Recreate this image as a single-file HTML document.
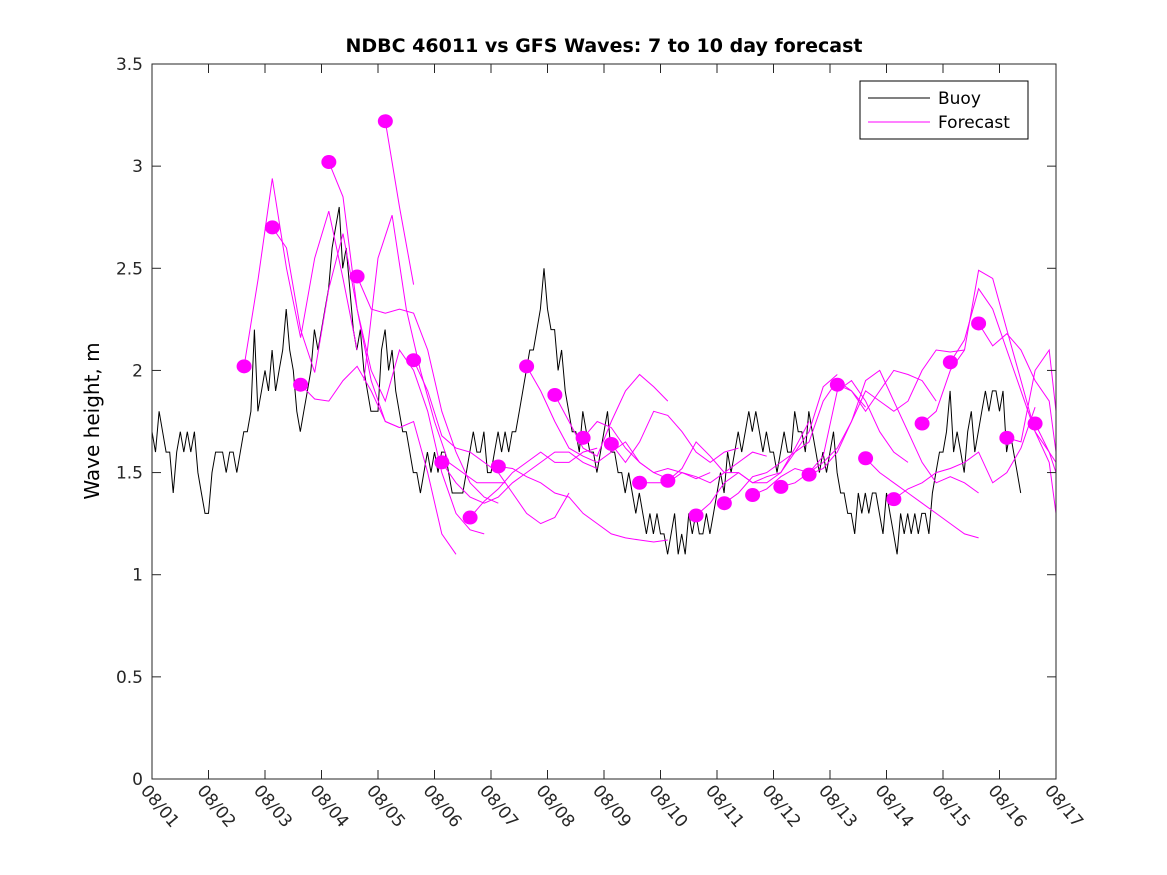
<!DOCTYPE html>
<html><head><meta charset="utf-8"><style>
html,body{margin:0;padding:0;background:#fff;}
svg{display:block;font-family:"DejaVu Sans","Liberation Sans",sans-serif;}
</style></head><body>
<svg id="chart" width="1167" height="875" viewBox="0 0 1167 875" xmlns="http://www.w3.org/2000/svg">
<defs><clipPath id="clip"><rect x="152" y="64" width="904" height="715"/></clipPath></defs>
<rect width="1167" height="875" fill="#fff"/>
<text x="604" y="52" text-anchor="middle" font-size="19" font-weight="bold">NDBC 46011 vs GFS Waves: 7 to 10 day forecast</text>
<text transform="translate(99,421) rotate(-90)" text-anchor="middle" font-size="20">Wave height, m</text>
<g id="plot" clip-path="url(#clip)"></g>
<g id="axes"></g>
<g>
<rect x="860" y="81" width="168" height="58" fill="#fff" stroke="#000" stroke-width="1"/>
<line x1="868" y1="98" x2="930" y2="98" stroke="#000" stroke-width="1"/>
<text x="938" y="104" font-size="17">Buoy</text>
<line x1="868" y1="122" x2="930" y2="122" stroke="#ff00ff" stroke-width="1"/>
<text x="938" y="128" font-size="17">Forecast</text>
</g>
</svg>
<script>
const yTicks=[0,0.5,1,1.5,2,2.5,3,3.5];
const yTickLabels=["0","0.5","1","1.5","2","2.5","3","3.5"];
const xTickLabels=["08/01","08/02","08/03","08/04","08/05","08/06","08/07","08/08","08/09","08/10","08/11","08/12","08/13","08/14","08/15","08/16","08/17"];
const buoyStep=0.0625;
const buoyValues=[1.7,1.6,1.8,1.7,1.6,1.6,1.4,1.6,1.7,1.6,1.7,1.6,1.7,1.5,1.4,1.3,
1.3,1.5,1.6,1.6,1.6,1.5,1.6,1.6,1.5,1.6,1.7,1.7,1.8,2.2,1.8,1.9,
2.0,1.9,2.1,1.9,2.0,2.1,2.3,2.1,2.0,1.8,1.7,1.8,1.9,2.0,2.2,2.1,
2.2,2.3,2.4,2.6,2.7,2.8,2.5,2.6,2.4,2.2,2.1,2.2,2.0,1.9,1.8,1.8,
1.8,2.1,2.2,2.0,2.1,1.9,1.8,1.7,1.7,1.6,1.5,1.5,1.4,1.5,1.6,1.5,
1.6,1.5,1.6,1.6,1.5,1.4,1.4,1.4,1.4,1.5,1.6,1.7,1.6,1.6,1.7,1.5,
1.5,1.6,1.7,1.6,1.7,1.6,1.7,1.7,1.8,1.9,2.0,2.1,2.1,2.2,2.3,2.5,
2.3,2.2,2.2,2.0,2.1,1.9,1.8,1.7,1.7,1.6,1.8,1.7,1.6,1.6,1.5,1.6,
1.7,1.8,1.6,1.6,1.5,1.5,1.4,1.5,1.4,1.3,1.4,1.3,1.2,1.3,1.2,1.3,
1.2,1.2,1.1,1.2,1.3,1.1,1.2,1.1,1.3,1.2,1.3,1.2,1.2,1.3,1.2,1.3,
1.4,1.5,1.4,1.6,1.5,1.6,1.7,1.6,1.7,1.8,1.7,1.8,1.7,1.6,1.7,1.6,
1.6,1.5,1.6,1.7,1.6,1.6,1.8,1.7,1.7,1.6,1.8,1.7,1.6,1.5,1.6,1.5,
1.6,1.7,1.5,1.4,1.4,1.3,1.3,1.2,1.4,1.3,1.4,1.3,1.4,1.4,1.3,1.2,
1.4,1.3,1.2,1.1,1.3,1.2,1.3,1.2,1.3,1.2,1.3,1.3,1.2,1.4,1.5,1.6,
1.6,1.7,1.9,1.6,1.7,1.6,1.5,1.7,1.8,1.6,1.7,1.8,1.9,1.8,1.9,1.9,
1.8,1.9,1.6,1.7,1.6,1.5,1.4];
const fcStep=0.25;
const fcStarts=[1.63,2.13,2.63,3.13,3.63,3.75,4.13,4.63,5.13,5.63,6.13,6.63,7.13,7.63,8.13,8.63,9.13,9.63,10.13,10.63,11.13,11.63,12.13,12.63,13.13,13.63,14.13,14.63,15.13,15.63];
const fcValues=[
[2.02,2.45,2.94,2.5,2.16,2.55,2.78,2.45,2.1],
[2.70,2.6,2.2,1.99,2.4,2.67,2.3,1.95,1.75,1.72],
[1.93,1.86,1.85,1.95,2.02,1.9,1.75,1.72,1.75,1.5,1.2,1.1],
[3.02,2.85,2.3,2.0,1.85,2.1,2.0,1.8,1.5,1.3,1.22,1.2],
[2.46,2.3,2.28,2.3,2.28,2.1,1.8,1.6,1.45,1.38,1.35],
[1.95,2.55,2.76,2.3,2.0,1.75,1.55,1.5,1.45,1.45,1.45],
[3.22,2.8,2.42],
[2.05,1.9,1.68,1.62,1.6,1.55,1.5,1.4,1.3,1.25,1.28,1.4],
[1.55,1.45,1.38,1.35,1.38,1.45,1.5,1.55,1.6,1.6,1.55,1.52],
[1.28,1.36,1.42,1.5,1.55,1.6,1.55,1.55,1.6,1.62],
[1.53,1.52,1.48,1.45,1.4,1.38,1.3,1.25,1.2,1.18,1.17,1.16,1.17],
[2.02,1.9,1.75,1.62,1.58,1.55,1.6,1.65,1.55,1.5,1.47],
[1.88,1.75,1.62,1.58,1.75,1.9,1.98,1.92,1.85],
[1.67,1.75,1.72,1.62,1.55,1.5,1.52,1.5,1.47,1.5],
[1.64,1.55,1.65,1.8,1.78,1.7,1.6,1.55,1.6,1.62],
[1.45,1.45,1.45,1.5,1.48,1.45,1.5,1.55,1.6,1.58],
[1.46,1.52,1.65,1.58,1.5,1.5,1.45,1.45,1.5,1.62,1.75],
[1.29,1.35,1.45,1.5,1.45,1.48,1.5,1.6,1.7,1.92,1.98],
[1.35,1.4,1.48,1.5,1.55,1.6,1.65,1.85,1.95,1.9,1.82],
[1.39,1.42,1.48,1.52,1.5,1.58,1.9,1.95,1.85,1.7,1.6,1.55],
[1.43,1.45,1.5,1.55,1.62,1.75,1.9,1.85,1.8,1.85,2.0,2.1,2.09,2.1],
[1.49,1.52,1.6,1.75,1.95,2.0,1.85,1.7,1.55,1.45,1.48,1.45,1.4],
[1.93,1.9,1.8,1.9,2.0,1.98,1.95,1.85],
[1.57,1.5,1.45,1.4,1.35,1.3,1.25,1.2,1.18],
[1.37,1.42,1.45,1.5,1.52,1.55,1.6,1.45,1.5,1.62,1.82],
[1.74,1.8,2.0,2.1,2.49,2.45,2.2,1.95,1.7,1.6,1.5,1.4,1.3],
[2.04,2.15,2.4,2.3,2.1,1.9,1.7,1.55,1.3,1.17,1.05],
[2.23,2.12,2.18,2.1,1.95,1.85,1.6,1.5,1.4],
[1.67,1.65,2.0,2.1,1.8,1.55,1.4,1.3,1.1,1.02],
[1.74,1.6,1.55,1.7]];
const dotDays=[1.63,2.13,2.63,3.13,3.63,4.13,4.63,5.13,5.63,6.13,6.63,7.13,7.63,8.13,8.63,9.13,9.63,10.13,10.63,11.13,11.63,12.13,12.63,13.13,13.63,14.13,14.63,15.13,15.63];
const dotValues=[2.02,2.70,1.93,3.02,2.46,3.22,2.05,1.55,1.28,1.53,2.02,1.88,1.67,1.64,1.45,1.46,1.29,1.35,1.39,1.43,1.49,1.93,1.57,1.37,1.74,2.04,2.23,1.67,1.74];

const X0=152,X1=1056,Y0=779,Y1=64;
function xs(d){return X0+(X1-X0)*d/16;}
function ys(v){return Y0-(Y0-Y1)*v/3.5;}
const NS="http://www.w3.org/2000/svg";
function mk(tag,attrs,parent){const e=document.createElementNS(NS,tag);for(const k in attrs)e.setAttribute(k,attrs[k]);parent.appendChild(e);return e;}
const plot=document.getElementById('plot'),axes=document.getElementById('axes');
mk('rect',{x:X0,y:Y1,width:X1-X0,height:Y0-Y1,fill:'#fff'},plot);
let bp=buoyValues.map((v,i)=>xs(i*buoyStep).toFixed(1)+','+ys(v).toFixed(1)).join(' ');
const bl=mk('polyline',{points:bp,fill:'none',stroke:'#000','stroke-width':1},plot);


fcValues.forEach((arr,j)=>{
  const p=arr.map((v,i)=>xs(Math.min(16,fcStarts[j]+i*fcStep)).toFixed(1)+','+ys(v).toFixed(1)).join(' ');
  const l=mk('polyline',{points:p,fill:'none',stroke:'#ff00ff','stroke-width':1},plot);
  
  
});
dotDays.forEach((d,i)=>{
  const c=mk('ellipse',{cx:xs(d),cy:ys(dotValues[i]),rx:7.5,ry:7,fill:'#ff00ff'},plot);
  
  
});
mk('rect',{x:X0,y:Y1,width:X1-X0,height:Y0-Y1,fill:'none',stroke:'#262626','stroke-width':1},axes);
yTicks.forEach((v,i)=>{
  const y=ys(v);
  mk('line',{x1:X0,y1:y,x2:X0+9,y2:y,stroke:'#262626'},axes);
  mk('line',{x1:X1,y1:y,x2:X1-9,y2:y,stroke:'#262626'},axes);
  const t=mk('text',{x:X0-9,y:y+6,'text-anchor':'end','font-size':17,fill:'#262626'},axes);
  t.textContent=yTickLabels[i];
  
  
});
xTickLabels.forEach((s,i)=>{
  const x=xs(i);
  mk('line',{x1:x,y1:Y0,x2:x,y2:Y0-9,stroke:'#262626'},axes);
  mk('line',{x1:x,y1:Y1,x2:x,y2:Y1+9,stroke:'#262626'},axes);
  const t=mk('text',{x:0,y:0,'font-size':17,fill:'#262626',transform:'translate('+(x-12)+','+(Y0+12)+') rotate(50)'},axes);
  t.textContent=s;
  
  
});
</script>
</body></html>
